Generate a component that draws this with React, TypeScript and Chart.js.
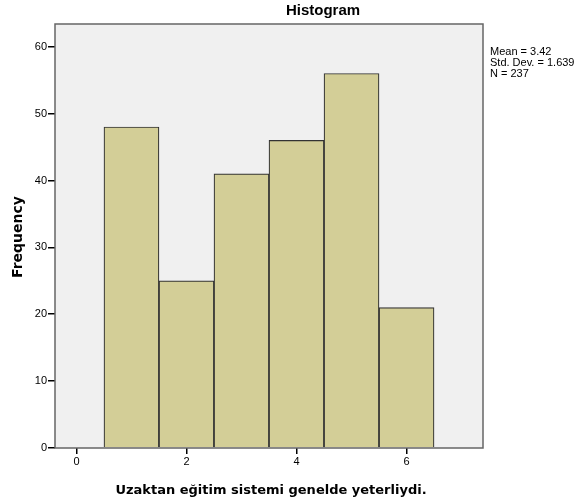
import React, { useEffect, useRef } from "react";
import { Chart, registerables } from "chart.js";

Chart.register(...registerables);

const binCenters = [1, 2, 3, 4, 5, 6];
const frequencies = [48, 25, 41, 46, 56, 21];
const xTicks = [0, 2, 4, 6];
const yTicks = [0, 10, 20, 30, 40, 50, 60];
const statsLines = ["Mean = 3.42", "Std. Dev. = 1.639", "N = 237"];
const chartTitle = "Histogram";
const xTitle = "Uzaktan eğitim sistemi genelde yeterliydi.";
const yTitle = "Frequency";

const FONT = "Arial, 'Liberation Sans', sans-serif";
const BOLD = "'DejaVu Sans', Verdana, sans-serif";

export default function App() {
  const ref = useRef<HTMLCanvasElement | null>(null);
  useEffect(() => {
    document.body.style.margin = "0";
    const canvas = ref.current!;
    const decor = {
      id: "decor",
      beforeDraw(chart: any) {
        const { ctx, chartArea: a } = chart;
        ctx.save();
        ctx.fillStyle = "#ffffff";
        ctx.fillRect(0, 0, chart.width, chart.height);
        ctx.fillStyle = "#f0f0f0";
        ctx.fillRect(a.left, a.top, a.right - a.left, a.bottom - a.top);
        ctx.restore();
      },
      afterDraw(chart: any) {
        const { ctx, chartArea: a } = chart;
        ctx.save();
        ctx.strokeStyle = "#666666";
        ctx.lineWidth = 1.5;
        ctx.strokeRect(a.left, a.top, a.right - a.left, a.bottom - a.top);
        ctx.fillStyle = "#000";
        ctx.textAlign = "center";
        ctx.textBaseline = "middle";
        ctx.font = `bold 15px ${FONT}`;
        ctx.fillText(chartTitle, 323, 11);
        ctx.font = `bold 13px ${BOLD}`;
        ctx.fillText(xTitle, 271, 491);
        ctx.save();
        ctx.translate(18, 237);
        ctx.rotate(-Math.PI / 2);
        ctx.font = `bold 14px ${BOLD}`;
        ctx.fillText(yTitle, 0, 0);
        ctx.restore();
        ctx.font = `11px ${FONT}`;
        ctx.textAlign = "left";
        statsLines.forEach((s, i) => ctx.fillText(s, 490, 52 + i * 11));
        ctx.restore();
      },
    };
    const chart = new Chart(canvas, {
      type: "bar",
      data: {
        datasets: [
          {
            data: binCenters.map((x, i) => ({ x, y: frequencies[i] })),
            backgroundColor: "#d3ce97",
            borderColor: "#333333",
            borderWidth: 1.2,
            barPercentage: 1,
            categoryPercentage: 1,
          },
        ],
      },
      options: {
        animation: false,
        responsive: false,
        maintainAspectRatio: false,
        layout: { padding: { top: 24, right: 96, left: 0, bottom: 0 } },
        plugins: { legend: { display: false }, tooltip: { enabled: false }, title: { display: false } },
        scales: {
          x: {
            type: "linear",
            offset: false,
            min: -0.39,
            max: 7.39,
            afterBuildTicks: (s: any) => {
              s.ticks = xTicks.map((v) => ({ value: v }));
            },
            afterFit: (s: any) => {
              s.height = 53;
            },
            grid: { offset: false, drawOnChartArea: false, drawTicks: true, tickLength: 6, color: "#000", lineWidth: 1.5 },
            border: { display: false },
            ticks: { color: "#000", font: { size: 11, family: FONT }, padding: 1, maxRotation: 0 },
          },
          y: {
            min: 0,
            max: 63.4,
            afterBuildTicks: (s: any) => {
              s.ticks = yTicks.map((v) => ({ value: v }));
            },
            afterFit: (s: any) => {
              s.width = 55;
            },
            grid: { drawOnChartArea: false, drawTicks: true, tickLength: 7, color: "#000", lineWidth: 1.5 },
            border: { display: false },
            ticks: { color: "#000", font: { size: 11, family: FONT }, padding: 1 },
          },
        },
      },
      plugins: [decor],
    });
    return () => chart.destroy();
  }, []);
  return (
    <div style={{ width: 579, height: 501 }}>
      <canvas ref={ref} width={579} height={501} style={{ display: "block" }} />
    </div>
  );
}
